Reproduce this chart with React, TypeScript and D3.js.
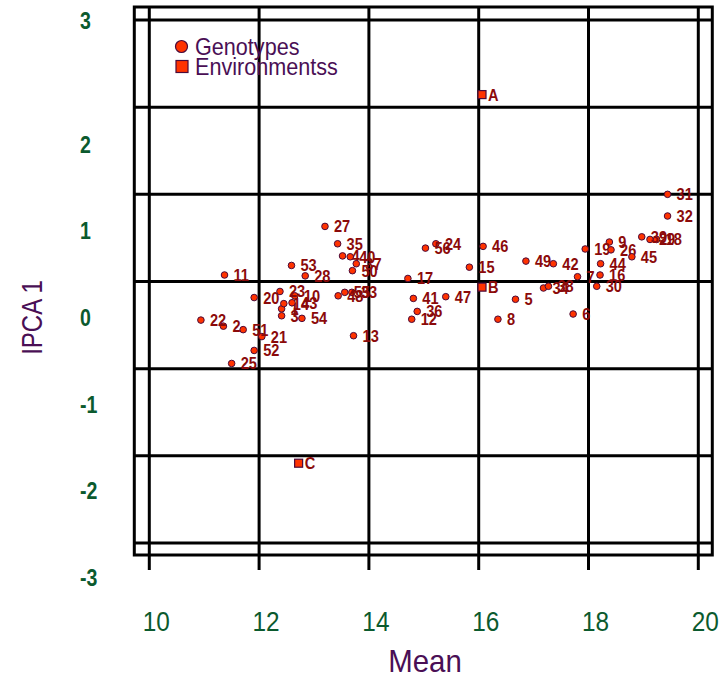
import * as d3 from 'd3'
import { useMemo } from 'react'
import type { ReactNode } from 'react'

// genotype labels 1..56 with mean yield and IPCA 1 score
const genotypeLabels = d3.range(1, 57).map(String)
const genotypeMean = [
  12.41, 11.35, 12.41, 13.52, 16.67, 17.72, 17.80, 16.35, 18.38, 12.65,
  11.37, 14.78, 13.72, 12.45, 15.83, 18.21, 14.71, 19.24, 17.94, 11.91,
  12.05, 10.94, 12.38, 15.22, 11.50, 18.41, 13.20, 12.84, 19.12, 18.15,
  19.44, 19.44, 13.69, 17.18, 13.43, 14.88, 13.77, 17.27, 18.97, 13.66,
  14.81, 17.36, 12.60, 18.22, 18.79, 16.08, 15.40, 13.44, 16.86, 13.70,
  11.71, 11.91, 12.59, 12.78, 13.56, 15.03,
]
const genotypeIpca = [
  0.10, -0.10, 0.02, 0.71, 0.21, 0.04, 0.47, -0.02, 0.87, 0.25,
  0.49, -0.02, -0.21, 0.16, 0.58, 0.49, 0.45, 0.90, 0.79, 0.23,
  -0.22, -0.03, 0.30, 0.85, -0.53, 0.78, 1.05, 0.48, 0.90, 0.36,
  1.42, 1.17, 0.29, 0.34, 0.85, 0.07, 0.62, 0.36, 0.93, 0.70,
  0.22, 0.62, 0.17, 0.62, 0.70, 0.82, 0.24, 0.25, 0.65, 0.54,
  -0.14, -0.38, 0.60, -0.01, 0.29, 0.80,
]

const envLabels = ['A', 'B', 'C']
const envMean = [16.06, 16.06, 12.72]
const envIpca = [2.57, 0.35, -1.68]

const xTicks = [10, 12, 14, 16, 18, 20]
const yTickLabels = ['3', '2', '1', '0', '-1', '-2', '-3']
const yTickValues = [3.43, 2, 1, 0, -1, -2, -3]
const yDomain = [-2.6, 3.43]

const legendLabels = ['Genotypes', 'Environmentss']

const FONT = '"Liberation Sans", Arial, sans-serif'
const POINT_FILL = '#ff3300'
const POINT_STROKE = '#4a0a3a'
const LABEL_COLOR = '#8b0a0a'
const TICK_COLOR = '#0b5a2e'
const TITLE_COLOR = '#4a0f55'

// the original uses a condensed face, so squeeze text horizontally
interface SqueezedProps {
  x: number
  y: number
  sx?: number
  rotate?: number
  children: ReactNode
  [key: string]: any
}
const Squeezed = ({ x, y, sx = 0.88, rotate = 0, children, ...rest }: SqueezedProps) => (
  <text transform={`translate(${x},${y}) rotate(${rotate}) scale(${sx},1)`} {...rest}>
    {children}
  </text>
)

export default function App() {
  const width = 723
  const height = 681

  const xScale = useMemo(() => d3.scaleLinear().domain([10, 20]).range([149.3, 698.3]), [])
  const yScale = useMemo(() => d3.scaleLinear().domain(yDomain).range([543, 20]), [])

  // grid rows are evenly spaced over the y range, not on the labelled values
  const gridRows = d3.range(7).map((i) => yDomain[0] + (i * (yDomain[1] - yDomain[0])) / 6)

  const left = xScale(10) - 15
  const right = xScale(20) + 14
  const top = yScale(yDomain[1]) - 13
  const bottom = yScale(yDomain[0]) + 12

  const genotypes = genotypeLabels.map((label, i) => (
    <g key={'g' + label}>
      <circle
        cx={xScale(genotypeMean[i])}
        cy={yScale(genotypeIpca[i])}
        r={3.3}
        fill={POINT_FILL}
        stroke={POINT_STROKE}
        strokeWidth={1}
      />
      <Squeezed
        x={xScale(genotypeMean[i]) + 9}
        y={yScale(genotypeIpca[i]) + 6}
        sx={0.86}
        fontSize={17}
        fontWeight="bold"
        fill={LABEL_COLOR}
      >
        {label}
      </Squeezed>
    </g>
  ))

  const environments = envLabels.map((label, i) => (
    <g key={'e' + label}>
      <rect
        x={xScale(envMean[i]) - 4}
        y={yScale(envIpca[i]) - 4}
        width={8}
        height={8}
        fill={POINT_FILL}
        stroke={POINT_STROKE}
        strokeWidth={1.2}
      />
      <Squeezed
        x={xScale(envMean[i]) + 6}
        y={yScale(envIpca[i]) + 6}
        sx={0.86}
        fontSize={17}
        fontWeight="bold"
        fill={LABEL_COLOR}
      >
        {label}
      </Squeezed>
    </g>
  ))

  return (
    <svg
      width={width}
      height={height}
      style={{ position: 'absolute', left: 0, top: 0, background: '#fff' }}
      fontFamily={FONT}
    >
      {/* frame and grid */}
      <rect x={left} y={top} width={right - left} height={bottom - top} fill="none" stroke="#000" strokeWidth={3} />
      {gridRows.map((v, i) => (
        <line key={'h' + i} x1={left} x2={right} y1={yScale(v)} y2={yScale(v)} stroke="#000" strokeWidth={3} />
      ))}
      {xTicks.map((t) => (
        <line key={'v' + t} x1={xScale(t)} x2={xScale(t)} y1={top} y2={bottom + 15} stroke="#000" strokeWidth={3} />
      ))}

      {/* tick labels */}
      {xTicks.map((t) => (
        <Squeezed key={'xt' + t} x={xScale(t) + 7} y={631} sx={0.87} textAnchor="middle" fontSize={28} fill={TICK_COLOR}>
          {t}
        </Squeezed>
      ))}
      {yTickValues.map((v, i) => (
        <Squeezed key={'yt' + i} x={80} y={yScale(v) + 8.5} sx={0.85} fontSize={23} fontWeight="bold" fill={TICK_COLOR}>
          {yTickLabels[i]}
        </Squeezed>
      ))}

      {/* axis titles */}
      <Squeezed x={425} y={672} sx={0.92} textAnchor="middle" fontSize={32} fill={TITLE_COLOR}>
        Mean
      </Squeezed>
      <Squeezed x={42} y={yScale(0)} rotate={-90} sx={0.8} textAnchor="middle" fontSize={30} fill={TITLE_COLOR}>
        IPCA 1
      </Squeezed>

      {environments}
      {genotypes}

      {/* legend */}
      <circle cx={181.5} cy={46.5} r={6} fill={POINT_FILL} stroke={POINT_STROKE} strokeWidth={1.2} />
      <rect x={176} y={60.5} width={12} height={12} fill={POINT_FILL} stroke={POINT_STROKE} strokeWidth={1.2} />
      <Squeezed x={195} y={55} sx={0.9} fontSize={24} fill={TITLE_COLOR}>{legendLabels[0]}</Squeezed>
      <Squeezed x={195} y={75} sx={0.9} fontSize={24} fill={TITLE_COLOR}>{legendLabels[1]}</Squeezed>
    </svg>
  )
}
